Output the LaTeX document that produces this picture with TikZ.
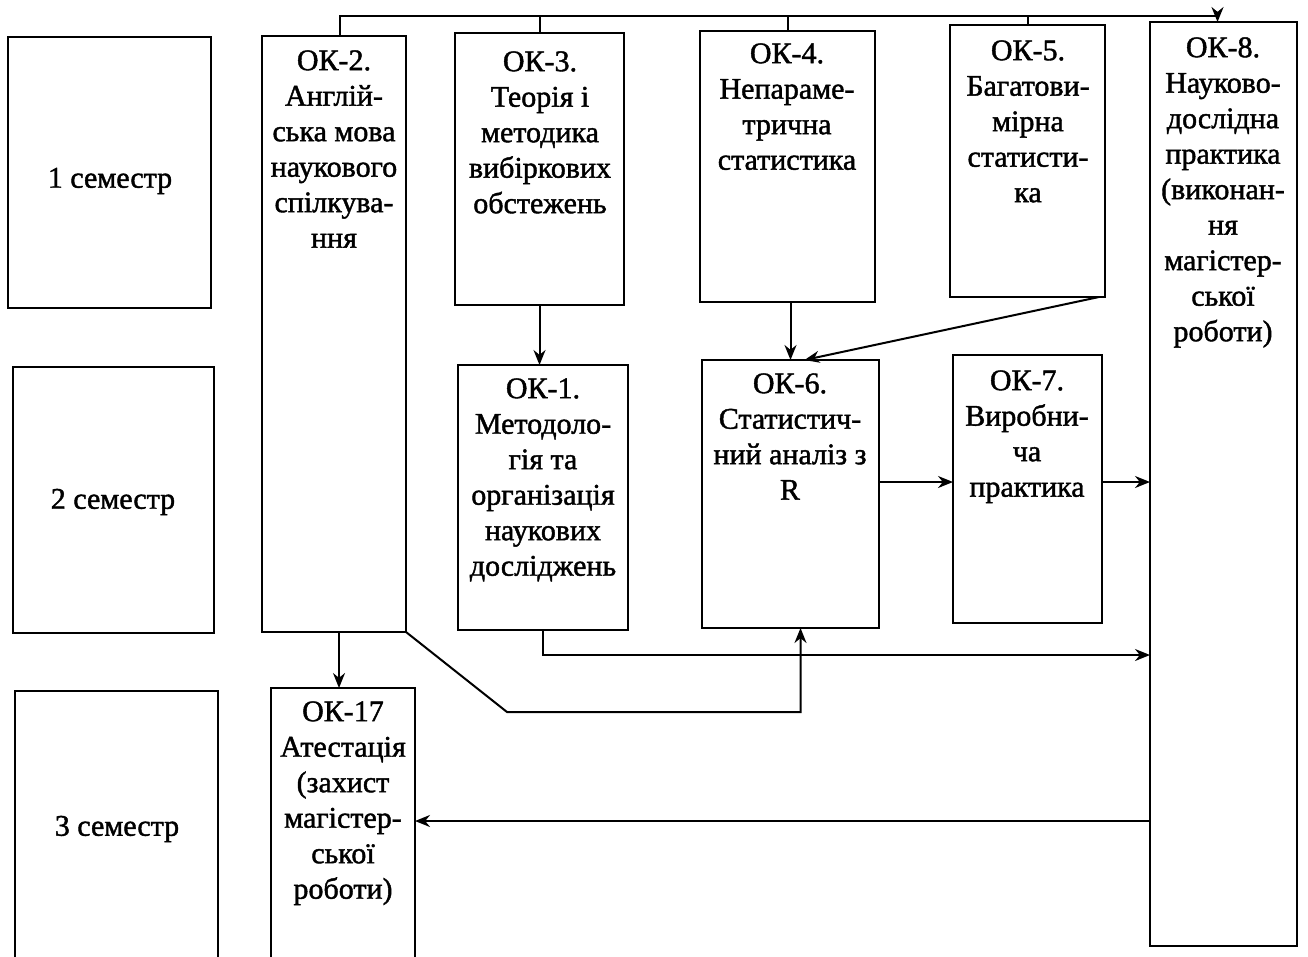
\documentclass[tikz,border=0pt]{standalone}
\usepackage{fontspec}
\setmainfont{Liberation Serif}
\newfontfamily\scanfont{Liberation Serif}[FakeBold=1.4]
\usetikzlibrary{arrows.meta,calc}
\tikzset{
  box/.style={draw, line width=2.2pt, inner sep=0pt, outer sep=0pt, anchor=north west},
  txt/.style={inner sep=0pt, align=center, anchor=north, font=\scanfont\fontsize{30}{35.5}\selectfont},
  sem/.style={inner sep=0pt, font=\scanfont\fontsize{30}{35.5}\selectfont},
  line/.style={line width=2pt},
  arr/.style={line width=2pt, -{Stealth[length=15pt,width=12pt]}}
}
\newcommand{\fs}{\rule{0pt}{22pt}}
\begin{document}
\begin{tikzpicture}[x=1pt,y=-1pt]
\useasboundingbox[fill=white] (0,0) rectangle (1308,956);
% semester boxes
\node[box, minimum width=203pt, minimum height=271pt] (s1) at (8,37) {};
\node[box, minimum width=201pt, minimum height=266pt] (s2) at (13,367) {};
\node[box, minimum width=203pt, minimum height=272pt] (s3) at (15,691) {};
\node[sem] (s1t) at (110,181) {1 семестр};
\node[sem] (s2t) at (113,502) {2 семестр};
\node[sem] (s3t) at (117,829) {3 семестр};
% course boxes
\node[box, minimum width=144pt, minimum height=596pt] (ok2) at (262,36) {};
\node[box, minimum width=169pt, minimum height=272pt] (ok3) at (455,33) {};
\node[box, minimum width=175pt, minimum height=271pt] (ok4) at (700,31) {};
\node[box, minimum width=155pt, minimum height=272pt] (ok5) at (950,25) {};
\node[box, minimum width=147pt, minimum height=924pt] (ok8) at (1150,22) {};
\node[box, minimum width=170pt, minimum height=265pt] (ok1) at (458,365) {};
\node[box, minimum width=177pt, minimum height=268pt] (ok6) at (702,360) {};
\node[box, minimum width=149pt, minimum height=268pt] (ok7) at (953,355) {};
\node[box, minimum width=144pt, minimum height=275pt] (ok17) at (271,688) {};
% texts
\node[txt] (ok2t) at (334,48) {\fs ОК-2.\\Англій-\\ська мова\\наукового\\спілкува-\\ння};
\node[txt] (ok3t) at (540,49) {\fs ОК-3.\\Теорія і\\методика\\вибіркових\\обстежень};
\node[txt] (ok4t) at (787,41) {\fs ОК-4.\\Непараме-\\трична\\статистика};
\node[txt] (ok5t) at (1028,38) {\fs ОК-5.\\Багатови-\\мірна\\статисти-\\ка};
\node[txt] (ok8t) at (1223,35) {\fs ОК-8.\\Науково-\\дослідна\\практика\\(виконан-\\ня\\магістер-\\ської\\роботи)};
\node[txt] (ok1t) at (543,376) {\fs ОК-1.\\Методоло-\\гія та\\організація\\наукових\\досліджень};
\node[txt] (ok6t) at (790,371) {\fs ОК-6.\\Статистич-\\ний аналіз з\\R};
\node[txt] (ok7t) at (1027,368) {\fs ОК-7.\\Виробни-\\ча\\практика};
\node[txt] (ok17t) at (343,699) {\fs ОК-17\\Атестація\\(захист\\магістер-\\ської\\роботи)};
% helper coordinates
\coordinate (topy) at (0,16);
\coordinate (r482) at (0,482);
\coordinate (r656) at (0,655);
\coordinate (r822) at (0,821);
\coordinate (a2) at ($(ok2.north)+(6,0)$);
\coordinate (a8) at ($(ok8.north)+(-6,0)$);
\coordinate (b2) at ($(ok2.south)+(5,0)$);
\coordinate (c6) at ($(ok6.south)+(10,0)$);
\coordinate (d5) at ($(ok5.south east)+(-6,0)$);
\coordinate (e6) at ($(ok6.north)+(14,0)$);
\coordinate (bend) at (507,712);
% connectors
\draw[arr] (a2) -- (a2 |- topy) -- (a8 |- topy) -- (a8);
\draw[line] (ok3.north) -- (ok3.north |- topy);
\draw[line] (ok4.north) -- (ok4.north |- topy);
\draw[line] (ok5.north) -- (ok5.north |- topy);
\draw[arr] (ok3.south) -- (ok3.south |- ok1.north);
\draw[arr] (ok6.north |- ok4.south) -- (ok6.north);
\draw[arr] (d5) -- (e6);
\draw[arr] (ok6.east |- r482) -- (ok7.west |- r482);
\draw[arr] (ok7.east |- r482) -- (ok8.west |- r482);
\draw[arr] (ok1.south) -- (ok1.south |- r656) -- (ok8.west |- r656);
\draw[arr] (ok2.south east) -- (bend) -| (c6);
\draw[arr] (b2) -- (b2 |- ok17.north);
\draw[arr] (ok8.west |- r822) -- (ok17.east |- r822);
\end{tikzpicture}
\end{document}
